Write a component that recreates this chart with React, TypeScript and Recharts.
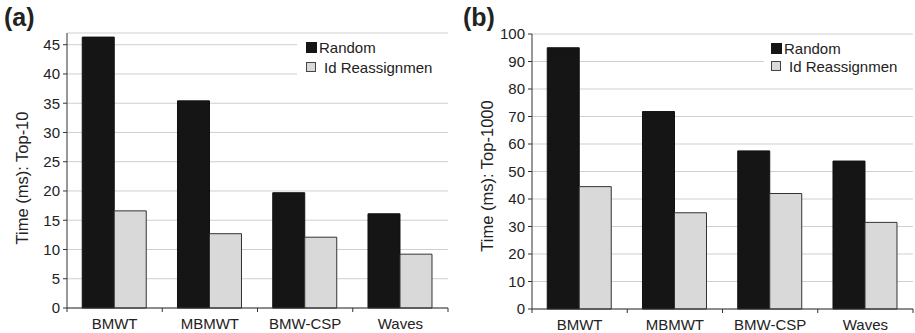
import { BarChart, Bar, XAxis, YAxis, CartesianGrid, Label } from 'recharts'

const categories = ['BMWT', 'MBMWT', 'BMW-CSP', 'Waves']

// (a) top-10 query time, ms
const top10Random = [46.3, 35.4, 19.7, 16.1]
const top10Reassign = [16.6, 12.7, 12.1, 9.2]
const top10Ticks = [0, 5, 10, 15, 20, 25, 30, 35, 40, 45]

// (b) top-1000 query time, ms
const top1000Random = [95, 71.8, 57.5, 53.8]
const top1000Reassign = [44.5, 35, 42, 31.5]
const top1000Ticks = [0, 10, 20, 30, 40, 50, 60, 70, 80, 90, 100]

const seriesNames = ['Random', 'Id Reassignmen']

const FONT = '"Liberation Sans", Arial, sans-serif'
const TEXT = '#222'
const GRID = '#cfcfcf'
const AXIS = '#333'
const DARK = '#151515'
const LIGHT = '#d9d9d9'

const toRows = (random: number[], reassign: number[]) =>
  categories.map((name, i) => ({ name, random: random[i], reassign: reassign[i] }))

// category ticks sit on band edges, label in the middle
const makeXTick = (band: number) => (props: any) => {
  const { x, y, payload, index } = props
  const left = x - band / 2
  return (
    <g>
      <line x1={left} y1={y} x2={left} y2={y + 4} stroke={AXIS} />
      {index === categories.length - 1 && (
        <line x1={x + band / 2} y1={y} x2={x + band / 2} y2={y + 4} stroke={AXIS} />
      )}
      <text x={x} y={y + 21} textAnchor="middle" fontSize={15} fill={TEXT} fontFamily={FONT}>
        {payload.value}
      </text>
    </g>
  )
}

interface PanelProps {
  letter: string
  rows: Array<{ name: string; random: number; reassign: number }>
  ticks: number[]
  domain: [number, number]
  width: number
  yWidth: number
  margin: { top: number; right: number; bottom: number; left: number }
  xHeight: number
  label: string
  labelX: number
  labelY: number
  legendX: number
  legendRows: [number, number]
  legendBox: { left: number; top: number; width: number; height: number }
}

function Panel(p: PanelProps) {
  const plotWidth = p.width - p.yWidth - p.margin.right
  const band = plotWidth / categories.length
  return (
    <div style={{ position: 'relative', width: p.width, height: 333 }}>
      <BarChart
        width={p.width}
        height={333}
        data={p.rows}
        margin={p.margin}
        barCategoryGap="16%"
        barGap={0}
      >
        <CartesianGrid vertical={false} stroke={GRID} />
        <XAxis
          dataKey="name"
          interval={0}
          height={p.xHeight}
          tickSize={0}
          tickMargin={0}
          tickLine={false}
          axisLine={{ stroke: AXIS }}
          tick={makeXTick(band)}
        />
        <XAxis xAxisId="top" dataKey="name" orientation="top" height={0} tick={false} tickLine={false} axisLine={{ stroke: GRID }} />
        <YAxis
          domain={p.domain}
          ticks={p.ticks}
          width={p.yWidth}
          tickSize={4}
          tickMargin={3}
          tickLine={{ stroke: AXIS }}
          axisLine={{ stroke: AXIS }}
          tick={{ fontSize: 15, fill: TEXT, fontFamily: FONT }}
        >
          <Label
            content={() => (
              <text
                x={p.labelX}
                y={p.labelY}
                transform={`rotate(-90, ${p.labelX}, ${p.labelY})`}
                textAnchor="middle"
                dominantBaseline="central"
                fontSize={16.5}
                fill={TEXT}
                fontFamily={FONT}
              >
                {p.label}
              </text>
            )}
          />
        </YAxis>
        <YAxis yAxisId="right" orientation="right" domain={p.domain} width={0} tick={false} tickLine={false} axisLine={{ stroke: GRID }} />
        <Bar dataKey="random" name={seriesNames[0]} fill={DARK} stroke="#111" isAnimationActive={false} />
        <Bar dataKey="reassign" name={seriesNames[1]} fill={LIGHT} stroke="#333" strokeWidth={1} isAnimationActive={false} />
      </BarChart>

      {/* legend box over the grid */}
      <div style={{ position: 'absolute', background: '#fff', ...p.legendBox }} />
      <div style={{ position: 'absolute', left: p.legendX, top: p.legendRows[0] - 9, height: 18, display: 'flex', alignItems: 'center', fontFamily: FONT, fontSize: 15, color: TEXT }}>
        <span style={{ width: 11, height: 11, background: DARK, display: 'inline-block', marginRight: 2 }} />
        <span>{seriesNames[0]}</span>
      </div>
      <div style={{ position: 'absolute', left: p.legendX, top: p.legendRows[1] - 9, height: 18, display: 'flex', alignItems: 'center', fontFamily: FONT, fontSize: 15, color: TEXT }}>
        <span style={{ width: 8, height: 8, background: LIGHT, border: '1px solid #444', display: 'inline-block', marginRight: 8 }} />
        <span>{seriesNames[1]}</span>
      </div>

      <div style={{ position: 'absolute', left: p.letter === 'a' ? 4 : 8, top: 2, fontFamily: FONT, fontWeight: 'bold', fontSize: 25, color: TEXT, lineHeight: '30px' }}>
        ({p.letter})
      </div>
    </div>
  )
}

export default function App() {
  return (
    <div style={{ position: 'absolute', left: 0, top: 0, width: 915, height: 333, display: 'flex', background: '#fff' }}>
      <Panel
        letter="a"
        rows={toRows(top10Random, top10Reassign)}
        ticks={top10Ticks}
        domain={[0, 47]}
        width={455}
        yWidth={67}
        margin={{ top: 33, right: 7, bottom: 0, left: 0 }}
        xHeight={25}
        label="Time (ms): Top-10"
        labelX={22}
        labelY={178}
        legendX={306}
        legendRows={[47, 67]}
        legendBox={{ left: 297, top: 35, width: 158, height: 45 }}
      />
      <Panel
        letter="b"
        rows={toRows(top1000Random, top1000Reassign)}
        ticks={top1000Ticks}
        domain={[0, 100]}
        width={460}
        yWidth={77}
        margin={{ top: 34, right: 2, bottom: 0, left: 0 }}
        xHeight={24}
        label="Time (ms): Top-1000"
        labelX={32}
        labelY={176}
        legendX={316}
        legendRows={[48, 66]}
        legendBox={{ left: 309, top: 36, width: 151, height: 44 }}
      />
    </div>
  )
}
